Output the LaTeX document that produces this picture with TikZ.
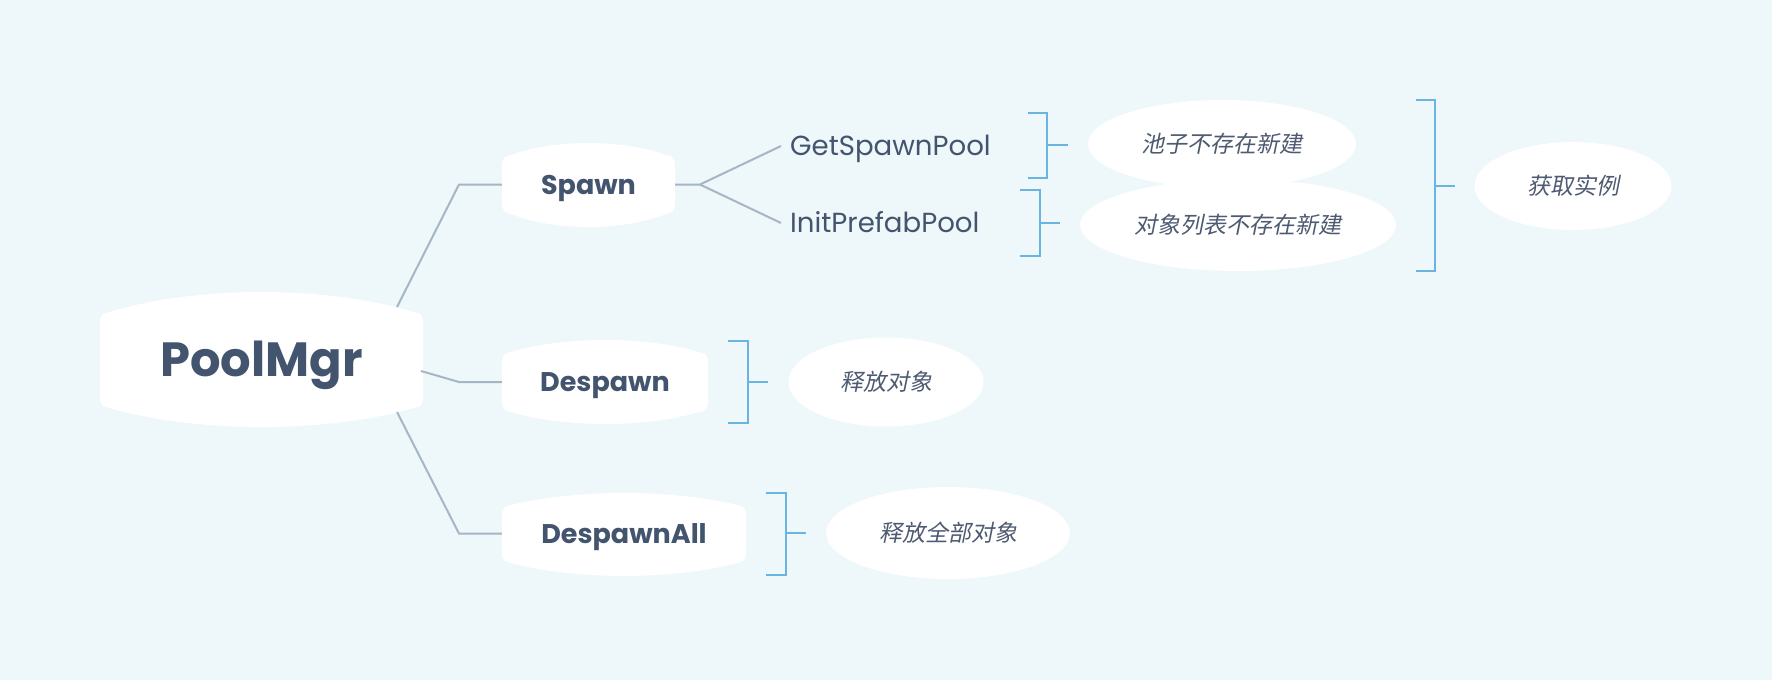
\documentclass[tikz,border=0pt]{standalone}
\usepackage{fontspec}
\setmainfont{Poppins}
\newfontfamily\cjk[FakeSlant=0.2]{Noto Sans CJK SC}
\usetikzlibrary{shapes.geometric}
\definecolor{bgc}{HTML}{EEF7FA}
\definecolor{txt}{HTML}{43546E}
\definecolor{cjktxt}{HTML}{4E5A70}
\definecolor{conn}{HTML}{A7B6C5}
\definecolor{brk}{HTML}{6AB4E2}
% L, R, side-top, side-bottom, top bulge, bottom bulge
\newcommand\bulgeshape[6]{%
  \fill[white] ({#1},{#3+11}) .. controls ({#1},{#3+3}) and ({#1+3},{#3+1}) .. ({#1+9},{#3})
    .. controls ({#1+(#2-#1)*0.3},{#3-#5*1.33}) and ({#1+(#2-#1)*0.7},{#3-#5*1.33}) .. ({#2-9},{#3})
    .. controls ({#2-3},{#3+1}) and ({#2},{#3+3}) .. ({#2},{#3+11})
    -- ({#2},{#4-11})
    .. controls ({#2},{#4-3}) and ({#2-3},{#4-1}) .. ({#2-9},{#4})
    .. controls ({#1+(#2-#1)*0.7},{#4+#6*1.33}) and ({#1+(#2-#1)*0.3},{#4+#6*1.33}) .. ({#1+9},{#4})
    .. controls ({#1+3},{#4-1}) and ({#1},{#4-3}) .. ({#1},{#4-11}) -- cycle;}
\begin{document}
\begin{tikzpicture}[x=1pt,y=-1pt,
  conn/.style={draw=conn,line width=2pt},
  brk/.style={draw=brk,line width=2.4pt},
  maintopic/.style={inner sep=0pt,text=txt,font=\bfseries\fontsize{48}{52}\selectfont,text height=33pt,text depth=0pt},
  subtopic/.style={inner sep=0pt,text=txt,font=\bfseries\fontsize{27}{30}\selectfont,text height=19pt,text depth=0pt},
  leaf/.style={inner xsep=9pt,inner ysep=0pt,anchor=west,text=txt,font=\fontsize{27.6}{30}\selectfont,text height=19pt,text depth=0pt},
  note/.style={ellipse,fill=white,inner sep=0pt,text=cjktxt,font=\cjk\fontsize{23}{26}\selectfont}]
\useasboundingbox (0,0) rectangle (1772,680);
\fill[bgc] (0,0) rectangle (1772,680);
% connector points
\coordinate (ps) at (397,307);
\coordinate (pd) at (421,371);
\coordinate (pa) at (397,412);
\coordinate (k1) at (459,184.5);
\coordinate (k2) at (459,382);
\coordinate (k3) at (459,533.5);
\coordinate (k4) at (700,184.5);
% topic shapes
\bulgeshape{100}{423}{312}{408}{20}{19}
\bulgeshape{502}{675}{155}{214}{12}{13}
\bulgeshape{502}{708}{352}{412}{12}{12}
\bulgeshape{502}{746}{505}{563}{12}{13}
% topic nodes
\node[maintopic,minimum width=323pt,minimum height=96pt] (pool) at (261.5,360) {PoolMgr};
\node[subtopic,minimum width=173pt,minimum height=59pt] (spawn) at (588.5,184.5) {Spawn};
\node[subtopic,minimum width=206pt,minimum height=60pt] (despawn) at (605,382) {Despawn};
\node[subtopic,minimum width=244pt,minimum height=58pt] (despawnall) at (624,533.5) {DespawnAll};
\node[leaf] (gsp) at (781,146) {GetSpawnPool};
\node[leaf] (ipp) at (781,223) {InitPrefabPool};
% connectors
\draw[conn] (ps) -- (k1) -- (spawn.west);
\draw[conn] (pd) -- (k2) -- (despawn.west);
\draw[conn] (pa) -- (k3) -- (despawnall.west);
\draw[conn] (spawn.east) -- (k4) -- (gsp.west);
\draw[conn] (k4) -- (ipp.west);
% notes
\node[note,minimum width=268pt,minimum height=88pt] (n1) at (1222,144) {池子不存在新建};
\node[note,minimum width=316pt,minimum height=92pt] (n2) at (1238,225) {对象列表不存在新建};
\node[note,minimum width=197pt,minimum height=88pt] (n3) at (1573,186) {获取实例};
\node[note,minimum width=195pt,minimum height=89pt] (n4) at (886,382) {释放对象};
\node[note,minimum width=244pt,minimum height=92pt] (n5) at (948,533) {释放全部对象};
% brackets
\draw[brk] (1028,113) -- (1047,113) -- (1047,178) -- (1028,178);
\draw[brk] (1047,145) coordinate (b1) -- ([xshift=-20pt]n1.west |- b1);
\draw[brk] (1020,190) -- (1040,190) -- (1040,256) -- (1020,256);
\draw[brk] (1040,223) coordinate (b2) -- ([xshift=-20pt]n2.west |- b2);
\draw[brk] (1416,100) -- (1435,100) -- (1435,271) -- (1416,271);
\draw[brk] (1435,186) coordinate (b3) -- ([xshift=-19pt]n3.west |- b3);
\draw[brk] (728,341) -- (748,341) -- (748,423) -- (728,423);
\draw[brk] (748,382) coordinate (b4) -- ([xshift=-20pt]n4.west |- b4);
\draw[brk] (766,493) -- (786,493) -- (786,575) -- (766,575);
\draw[brk] (786,533) coordinate (b5) -- ([xshift=-20pt]n5.west |- b5);
\end{tikzpicture}
\end{document}
